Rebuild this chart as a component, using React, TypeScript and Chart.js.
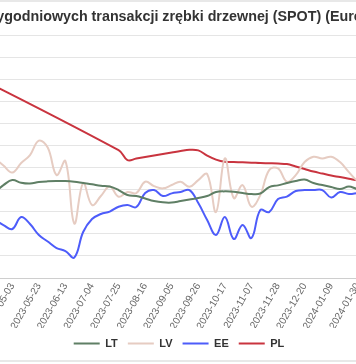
import React, { useEffect, useRef } from 'react';
import { Chart, registerables } from 'chart.js';

Chart.register(...registerables);

const TITLE = 'Ceny tygodniowych transakcji zrębki drzewnej (SPOT) (Euro/MWh)';

const dates = [
  '2023-02-07', '2023-02-14', '2023-02-21', '2023-02-28', '2023-03-07', '2023-03-14', '2023-03-21', '2023-03-28',
  '2023-04-04', '2023-04-11', '2023-04-18', '2023-04-25', '2023-05-03', '2023-05-09', '2023-05-16', '2023-05-23',
  '2023-05-30', '2023-06-06', '2023-06-13', '2023-06-20', '2023-06-27', '2023-07-04', '2023-07-11', '2023-07-18',
  '2023-07-25', '2023-08-01', '2023-08-08', '2023-08-16', '2023-08-22', '2023-08-29', '2023-09-05', '2023-09-12',
  '2023-09-19', '2023-09-26', '2023-10-03', '2023-10-10', '2023-10-17', '2023-10-24', '2023-10-31', '2023-11-07',
  '2023-11-14', '2023-11-21', '2023-11-28', '2023-12-05', '2023-12-12', '2023-12-20', '2023-12-27', '2024-01-03',
  '2024-01-09', '2024-01-16', '2024-01-23', '2024-01-30', '2024-02-06', '2024-02-13', '2024-02-20', '2024-02-27',
  '2024-03-05', '2024-03-12', '2024-03-19', '2024-03-26', '2024-04-02', '2024-04-09', '2024-04-16', '2024-04-23',
  '2024-04-30', '2024-05-07', '2024-05-14',
];

const ltValues = [
  20.5, 20.9, 21.3, 21.0, 20.6, 20.2, 20.4, 20.8, 20.3, 19.8,
  19.6, 21.05, 22.18, 21.57, 21.39, 21.73, 21.89, 21.95, 21.95, 21.8,
  21.5, 21.21, 20.87, 20.71, 19.92, 18.79, 18.56, 17.99, 17.43, 17.13,
  17.09, 17.43, 17.77, 18.11, 18.56, 19.47, 19.62, 19.53, 19.24, 19.01,
  19.13, 20.6, 20.98, 21.5, 21.95, 22.29, 21.5, 21.05, 20.6, 20.14,
  20.71, 20.14, 20.3, 20.5, 20.9, 21.3, 20.8, 20.4, 20.6, 21.0,
  21.4, 21.1, 20.7, 20.9, 21.2, 20.8, 20.5,
];

const lvValues = [
  24.5, 26.0, 23.2, 25.8, 27.5, 24.0, 22.6, 25.3, 27.9, 29.0,
  27.16, 25.46, 23.88, 26.03, 27.84, 31.12, 29.54, 23.31, 26.48, 12.34,
  21.5, 16.52, 18.56, 20.71, 18.4, 19.47, 19.24, 21.8, 20.82, 20.3,
  21.05, 21.8, 20.66, 22.18, 23.54, 14.94, 27.09, 18.11, 21.05, 16.14,
  18.79, 24.44, 24.83, 21.8, 23.31, 26.26, 27.46, 27.09, 27.46, 26.26,
  23.99, 21.95, 21.05, 20.2, 21.6, 23.4, 24.8, 23.1, 21.9, 22.8,
  24.2, 25.0, 23.6, 22.4, 23.0, 24.1, 23.3,
];

const eeValues = [
  14.2, 13.5, 15.1, 12.8, 11.9, 13.6, 12.2, 10.9, 12.5, 13.4,
  13.13, 11.99, 11.09, 13.81, 12.22, 9.73, 8.26, 6.79, 6.11, 4.64,
  10.41, 13.35, 14.49, 15.05, 16.14, 16.52, 16.07, 19.24, 19.92, 18.56,
  19.17, 19.47, 19.92, 16.98, 13.13, 9.73, 13.81, 8.83, 12.0, 9.05,
  15.39, 14.94, 17.88, 18.45, 19.69, 19.92, 19.92, 19.92, 18.22, 19.47,
  19.01, 19.24, 19.47, 19.1, 18.7, 19.5, 20.1, 19.6, 18.9, 19.3,
  19.8, 20.4, 19.7, 19.2, 19.9, 20.3, 19.8,
];

const plValues: (number | null)[] = [
  53.66, null, null, null, null, null, null, null, null, null,
  null, null, null, null, null, null, null, null, null, null,
  null, null, null, null, 28.97, 26.71, 27.05, 27.39, 27.73, 28.07,
  28.41, 28.75, 29.04, 28.9, 27.73, 26.82, 26.32, 26.26, 26.19, 26.12,
  26.03, 25.98, 25.92, 25.8, 25.24, 24.67, 24.1, 23.65, 23.2, 22.86,
  22.48, 22.07, 21.8, 21.6, 21.5, 21.4, 21.4, 21.3, 21.2, 21.2,
  21.1, 21.0, 21.0, 20.9, 20.9, 20.8, 20.8,
];

const seriesNames = ['LT', 'LV', 'EE', 'PL'];
const seriesColors = ['#5F7F65', '#E6CCC2', '#4D5CFA', '#C9343F'];

const yMin = 0;
const yMax = 55;
const yStep = 5;
const labelEvery = 3;

export default function App() {
  const ref = useRef<HTMLCanvasElement>(null);

  useEffect(() => {
    const canvas = ref.current;
    if (!canvas) return;
    Chart.defaults.font.family = "'Liberation Sans', Arial, Helvetica, sans-serif";
    const values = [ltValues, lvValues, eeValues, plValues];
    const chart = new Chart(canvas, {
      type: 'line',
      data: {
        labels: dates,
        datasets: seriesNames.map((name, k) => ({
          label: name,
          data: values[k],
          borderColor: seriesColors[k],
          backgroundColor: seriesColors[k],
          borderWidth: 2,
          pointRadius: 0,
          tension: 0.4,
          spanGaps: true,
          fill: false,
        })),
      },
      options: {
        responsive: false,
        animation: false,
        layout: { padding: 0 },
        plugins: {
          title: {
            display: true,
            text: TITLE,
            color: '#333',
            font: { size: 14.3, weight: 'bold' },
            padding: { top: 10, bottom: 10 },
          },
          legend: {
            position: 'bottom',
            labels: {
              boxWidth: 26,
              boxHeight: 0,
              color: '#333',
              font: { size: 11, weight: 'bold' },
              padding: 10,
            },
          },
          tooltip: { enabled: false },
        },
        scales: {
          x: {
            grid: { display: false, drawTicks: false },
            ticks: {
              autoSkip: false,
              minRotation: 60,
              maxRotation: 60,
              color: '#666',
              font: { size: 10 },
              padding: 3,
              callback: (_v: any, i: number) => (i % labelEvery === 0 ? dates[i] : ''),
            },
            afterFit: (s: any) => {
              s.height = 50;
            },
          },
          y: {
            min: yMin,
            max: yMax,
            ticks: { stepSize: yStep, color: '#666', font: { size: 10 } },
            grid: { color: 'rgba(0,0,0,0.1)' },
            afterFit: (s: any) => {
              s.width = 52;
            },
          },
        },
      },
    } as any);
    return () => chart.destroy();
  }, []);

  return (
    <div
      style={{
        position: 'fixed',
        left: 0,
        top: 0,
        width: 356,
        height: 364,
        overflow: 'hidden',
        background: '#fff',
      }}
    >
      <canvas ref={ref} width={650} height={361} style={{ position: 'absolute', left: -146, top: -2 }} />
      <div style={{ position: 'absolute', left: 0, top: 0, width: 356, height: 2, background: '#e8e8e8' }} />
      <div style={{ position: 'absolute', left: 0, top: 360, width: 356, height: 2, background: '#e8e8e8' }} />
    </div>
  );
}
